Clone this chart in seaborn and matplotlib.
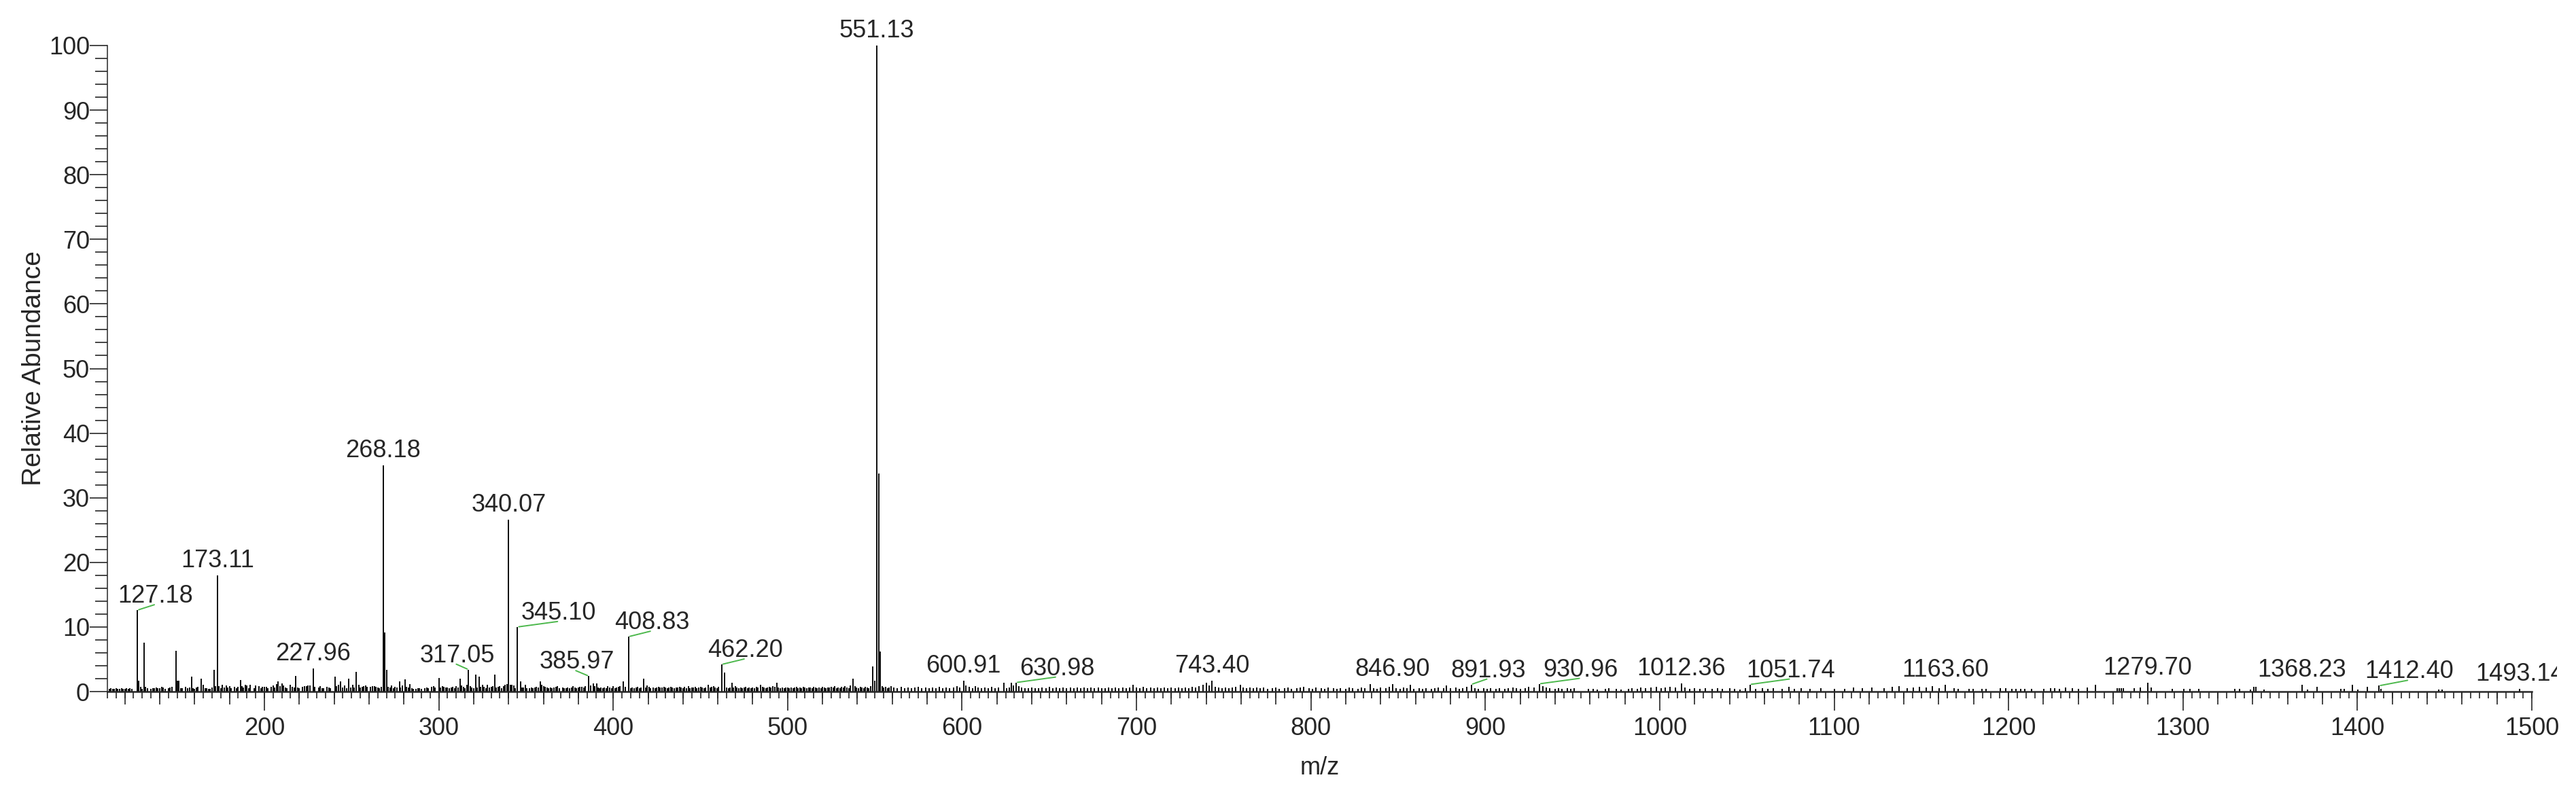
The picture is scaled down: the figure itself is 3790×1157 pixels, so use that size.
import matplotlib
matplotlib.use("Agg")
import numpy as np
import pandas as pd
import matplotlib.pyplot as plt
import seaborn as sns
from matplotlib.ticker import MultipleLocator
from matplotlib.transforms import Bbox, TransformedBbox

# =================== Labelled peaks ===================
label_mz = [127.18, 173.11, 227.96, 268.18, 317.05, 340.07, 345.10, 385.97,
            408.83, 462.20, 551.13, 600.91, 630.98, 743.40, 846.90, 891.93,
            930.96, 1012.36, 1051.74, 1163.60, 1279.70, 1368.23, 1412.40, 1493.14]
label_ab = [12.6, 18.0, 3.6, 35.0, 3.4, 26.6, 10.0, 2.4,
            8.5, 4.2, 100.0, 1.7, 1.4, 1.7, 1.2, 1.1,
            1.2, 1.3, 1.1, 1.05, 1.4, 1.05, 0.9, 0.4]
# horizontal shift of the label (pixels); non-zero ones get a green leader line
label_dx = [27, 0, 0, 0, -16, 0, 61, -17,
            34, 35, 0, 0, 60, 0, 0, 25,
            61, 0, 60, 0, 0, 0, 44, 0]

# =================== Other peaks (m/z, relative abundance) ===================
peaks_110_300 = [
    (111, .45), (112, .5), (113, .45), (114, .45), (115, .5), (116, .45), (117, .45), (118, .5),
    (119, .45), (120, .45), (121, .5), (122, .45), (123, .5), (124, .45),
    (128, 1.7), (129, .7), (130, .4), (131.2, 7.6), (132, .7), (133, .5), (135, .45), (136, .5),
    (137, .55), (138, .6), (139, .5), (140, .5), (141, .7), (142, .6), (143, .45), (145, .5),
    (146, .6), (147, .7), (149.2, 6.3), (150, 1.7), (151, 1.7), (152, .5), (153, .55), (155, .7),
    (156, .5), (157, .6), (158.3, 2.3), (159, .5), (160, .45), (161, .6), (162, .7), (163.7, 2.0),
    (165, 1.0), (166, .5), (167, .5), (168, .4), (169, .45), (170, .6), (171.1, 3.4), (172, .8),
    (174, .8), (175, .5), (176, 1.0), (177, .6), (178, .9), (179, .6), (180, .8), (181, .5),
    (183, .7), (184, .5), (185, .7), (186.2, 1.8), (187, .8), (188, .6), (189, 1.0), (190, .9),
    (191, .5), (192, 1.0), (194, .5), (195, .9), (197, .8), (198, .5), (199, .7), (200, .7),
    (201, .7), (202, .5), (204, .7), (205, .9), (206, .6), (207, 1.2), (208, 1.6), (209, .8),
    (210, 1.3), (211, .9), (212, .6), (213, .5), (215, 1.0), (216, .7), (217, .6), (218, 2.4),
    (219, .6), (220, .5), (222, .7), (223, .8), (224, .8), (225, .9), (226, .9), (229, .7),
    (231, .6), (232, .8), (233, .5), (234, .5), (236, .7), (237, .6), (238, .5), (240.5, 2.3),
    (241.5, .8), (242.5, 1.0), (243.7, 1.6), (245, .6), (246, .9), (247, .5), (248.4, 2.0), (249.5, .6),
    (250.5, 1.0), (251.5, .6), (252.7, 3.0), (254, 1.0), (255, .6), (256, .7), (257, .8), (258, .9),
    (259, .7), (261, .7), (262, .8), (263, .8), (264, .7), (265, .6), (266, .5), (267, .7),
    (269.18, 9.2), (270.2, 3.4), (271, .7), (272, .6), (273, .9), (274, .5), (275, .7), (276, .6),
    (277.4, 1.6), (278, .6), (279, .9), (280.6, 1.9), (281.5, .7), (282.5, .6), (283.6, 1.2), (284.5, .5),
    (285.5, .4), (287, .4), (288, .5), (289, .5), (290, .45), (292, .5), (293, .6), (294, .5),
    (296, .7), (297, .8), (298, .6),
]

peaks_300_560 = [
    (300.1, 2.1), (301, .6), (302, .8), (303, .7), (304, .6), (305, .6), (306, .5), (307, .6),
    (308, .7), (309, .5), (310, .8), (311, .6), (312.2, 2.0), (313, .9), (314, .7), (315, .5),
    (316, 1.0), (318, .8), (319, .6), (320, .5), (321.1, 2.6), (322, .6), (323.3, 2.3), (324, .7),
    (325, 1.1), (326, .7), (327, .5), (328, 1.0), (329, .6), (330, .7), (331, .8), (332.3, 2.6),
    (333, .6), (334, .7), (335, .8), (336, .5), (337, .8), (338, 1.0), (339, 1.2), (341, 1.1),
    (342, 1.0), (343, .9), (344, .5), (346.8, 1.6), (347.8, .6), (348.6, .6), (349.5, 1.0), (350.5, .5),
    (352, .5), (353, .6), (354, .5), (355, .6), (356, .7), (357, .6), (358.2, 1.6), (359, 1.0),
    (360, .8), (361, .7), (362, .6), (363, .5), (364, .6), (365, .5), (366, .6), (367, .7),
    (368, .8), (369, .5), (371, .6), (372, .5), (373, .5), (374, .6), (375, .5), (376, .6),
    (377, .8), (378, .6), (379, .5), (380, .6), (381, .7), (382, .7), (383, .6), (384, .8),
    (387, .9), (388.6, 1.3), (389.5, .8), (390.4, 1.3), (391.5, .6), (392, .5), (393, .6), (394, .5),
    (395, .6), (396, .5), (397, .8), (398, .6), (399, .5), (400, .8), (401, .5), (402, .6),
    (403, .7), (404, .8), (405.8, 1.6), (407, .7), (410, .5), (411, .6), (412, .5), (413, .6),
    (414, .7), (415, .5), (416, .6), (417.4, 2.0), (418.5, .6), (419.5, .9), (420.5, .7), (421.5, .5),
    (423, .6), (424, .5), (425, .6), (426, .7), (427, .6), (428, .6), (429, .7), (430, .6),
    (431, .5), (432, .6), (433, .7), (434, .6), (435, .5), (436, .6), (437, .6), (438, .7),
    (439, .6), (440, .5), (441, .7), (442, .5), (443, .8), (444, .5), (445, .6), (446, .6),
    (447, .7), (448, .5), (449, .6), (450, .7), (451, .6), (452, .5), (453, .6), (454.6, 1.0),
    (455.5, .6), (456.5, .7), (457.5, .8), (458.5, .6), (459.5, .5), (460.5, .7), (463.7, 2.9), (465, .6),
    (466, .5), (467, .6), (468.2, 1.4), (469, .6), (470, .8), (471, .6), (472, .5), (473, .6),
    (474, .5), (475, .6), (476, .7), (477, .5), (478, .6), (479, .5), (480, .6), (481, .5),
    (482, .7), (483, .6), (484.4, 1.05), (485.5, .7), (486.5, .6), (487.5, .5), (488.5, .6), (489.5, .7),
    (490.5, .6), (491.5, .8), (492.5, .7), (493.7, 1.4), (494.7, .6), (495.7, .5), (497, .6), (498, .5),
    (499, .6), (500, .6), (501, .5), (502, .6), (503, .5), (504, .6), (505, .7), (506, .5),
    (507, .6), (508, .5), (509, .7), (510, .6), (511, .5), (512, .6), (513, .6), (514, .5),
    (515, .7), (516, .6), (517, .5), (518, .6), (519, .5), (520, .7), (521, .6), (522, .5),
    (523, .6), (524, .6), (525, .7), (526, .6), (527, .8), (528, .5), (529, .6), (530, .5),
    (531, .7), (532, .6), (533, .8), (534, .6), (535, .5), (536, .9), (537.6, 2.0), (538.6, .8),
    (539.6, .6), (540.6, .5), (541.6, .7), (542.6, .6), (543.6, .5), (544.6, .7), (545.6, .6), (546.6, .5),
    (547.6, .8), (548.8, 3.9), (549.9, 1.7), (552.13, 33.8), (553.13, 6.2), (554.2, .8), (555.2, .6),
    (556.2, .7), (557.2, .5), (558.2, .6), (559.2, .8),
]

peaks_560_770 = [
    (561, .6), (563, .5), (565, .7), (567, .5), (569, .6), (571, .5), (573, .6), (575, .7),
    (577, .5), (579, .6), (581, .5), (583, .6), (585, .5), (587, .7), (589, .5), (591, .6),
    (593, .5), (595, .6), (597, .8), (598.5, .6), (602, .9), (604, .7), (606, .5), (607.5, .8),
    (609, .6), (611, .5), (613, .6), (615, .5), (617, .7), (619, .5), (621, .6), (623.9, 1.4),
    (625.5, .5), (627, .6), (628.2, 1.4), (629.5, .9), (632.5, .8), (634, .6), (636, .5), (638, .5),
    (640, .6), (642, .5), (644, .5), (646, .6), (648, .5), (650, .7), (652, .5), (654, .6),
    (656, .5), (658, .6), (660, .5), (662, .6), (664, .5), (666, .6), (668, .5), (670, .6),
    (672, .5), (674, .6), (676, .5), (678, .6), (680, .5), (682, .5), (684, .6), (686, .5),
    (688, .6), (690, .5), (692, .6), (694, .5), (696, .6), (698, 1.05), (700, .6), (702, .5),
    (704, .7), (706, .5), (708, .6), (710, .5), (712, .6), (714, .5), (716, .6), (718, .5),
    (720, .6), (722, .5), (724, .6), (726, .5), (728, .6), (730, .5), (732, .7), (734, .6),
    (736, .8), (738, 1.0), (740, 1.4), (741.8, .9), (745, .7), (747, .6), (749, .5), (751, .6),
    (753, .5), (755, .6), (757, .7), (759.6, 1.05), (761, .6), (763, .5), (765, .6), (767, .5),
    (769, .6),
]

peaks_770_1140 = [
    (771, .5), (773, .6), (775, .4), (778, .5), (780, .6), (782, .4), (785, .5), (787, .6),
    (789, .4), (792, .5), (794, .6), (796, .7), (799, .5), (801, .4), (803, .6), (806, .5),
    (808, .4), (810, .6), (813, .5), (815, .4), (817, .5), (820, .4), (822, .6), (824, .5),
    (827, .4), (829, .6), (831, .5), (834.1, 1.2), (836, .5), (838, .4), (840, .6), (843, .5),
    (845, .7), (849, .5), (851, .4), (853, .6), (855, .5), (857, 1.0), (859, .4), (862, .5),
    (864, .4), (866, .5), (869, .4), (871, .5), (873, .6), (876, .5), (877.6, .95), (880, .5),
    (883, .6), (885, .4), (887, .5), (889.5, .7), (894, .5), (896, .4), (899, .5), (901, .4),
    (903, .5), (906, .4), (908, .5), (911, .4), (913, .5), (916, .6), (918, .5), (920, .4),
    (923, .5), (925, .7), (928, .6), (933, .8), (935, .6), (937, .5), (940, .4), (942, .5),
    (944, .4), (947, .5), (949, .4), (951, .5), (959, .4), (962, .4), (964, .3), (969, .4),
    (971, .5), (975, .4), (978, .3), (982, .4), (984, .5), (987, .4), (989, .6), (992, .5),
    (995, .6), (998, .7), (1001, .5), (1003, .6), (1006, .7), (1009, .6), (1014.5, .6), (1017, .4),
    (1020, .5), (1023, .4), (1026, .5), (1030, .4), (1033, .5), (1036, .4), (1040, .5), (1043, .4),
    (1046, .3), (1049, .5), (1055, .4), (1059, .5), (1062, .4), (1065.2, .5), (1070, .4), (1073.9, .7),
    (1077, .4), (1081, .5), (1086.3, .4), (1092.5, .5), (1100, .4), (1106.2, .4), (1111.1, .6), (1116, .5),
    (1121.6, .6), (1128.5, .5), (1133.5, .7), (1137.2, .8),
]

peaks_1140_1500 = [
    (1141.7, .5), (1145.4, .6), (1149.0, .7), (1152.7, .6), (1156.4, .8), (1160.1, .5), (1168.7, .5),
    (1171.2, .4), (1177.3, .4), (1179.8, .4), (1184.7, .4), (1187.2, .4), (1195.3, .5), (1198.2, .5),
    (1201.9, .4), (1204.4, .4), (1206.8, .4), (1209.3, .4), (1213.0, .4), (1220.4, .4), (1224.1, .5),
    (1226.5, .5), (1229.0, .4), (1232.7, .6), (1236.4, .5), (1240.1, .4), (1245.0, .6), (1249.9, 1.05),
    (1262.2, .5), (1263.4, .5), (1264.7, .5), (1265.9, .5), (1272.0, .5), (1275.7, .6), (1281.9, .6),
    (1293.7, .4), (1300.3, .4), (1304.0, .4), (1308.9, .4), (1329.8, .4), (1332.3, .4), (1338.5, .35),
    (1340.5, .7), (1341.8, .7), (1346.3, .35), (1371.3, .35), (1376.9, .75), (1390.5, .4), (1392.5, .4),
    (1397.0, 1.0), (1400.2, .35), (1405.8, .75), (1413.6, .4), (1446.7, .35), (1448.6, .35),
]

# =================== Style ===================
sns.set_style("ticks")
plt.rcParams["font.family"] = ["Liberation Sans", "DejaVu Sans"]
GREEN = "#4cb84c"
W, H = 3790, 1157

other = peaks_110_300 + peaks_300_560 + peaks_560_770 + peaks_770_1140 + peaks_1140_1500
df = pd.concat([
    pd.DataFrame({"mz": label_mz, "ab": label_ab}),
    pd.DataFrame(other, columns=["mz", "ab"]),
], ignore_index=True)

fig = plt.figure(figsize=(W / 100, H / 100), dpi=100)
ax = fig.add_axes([158 / W, 1 - 1018 / H, (3725 - 158) / W, (1018 - 67) / H])

ax.vlines(df["mz"], 0, df["ab"], color="black", lw=1.35)
ax.set_xlim(110, 1500)
ax.set_ylim(0, 100)
sns.despine(ax=ax)
ax.spines["left"].set_linewidth(1.1)
ax.spines["bottom"].set_linewidth(1.8)

# y axis
ax.yaxis.set_major_locator(MultipleLocator(10))
ax.yaxis.set_minor_locator(MultipleLocator(2))
ax.tick_params(axis="y", which="major", length=18.7, width=1.2, pad=0, labelsize=26)
ax.tick_params(axis="y", which="minor", length=13, width=1.2)

# x axis: labelled every 100, medium ticks every 20, short ticks every 5
ax.xaxis.set_major_locator(MultipleLocator(100))
ax.xaxis.set_minor_locator(MultipleLocator(20))
ax.tick_params(axis="x", which="major", length=20, width=1.2, pad=7, labelsize=26)
ax.tick_params(axis="x", which="minor", length=13.7, width=1.2)
sec = ax.secondary_xaxis("bottom")
sec.xaxis.set_major_locator(MultipleLocator(5))
sec.tick_params(axis="x", which="major", length=7.2, width=1.2, labelbottom=False)
sec.spines["bottom"].set_visible(False)

ax.set_xlabel("m/z", fontsize=26)
ax.xaxis.label.set_va("center")
ax.xaxis.set_label_coords(0.5, (1018 - 1130) / (1018 - 67))
ax.set_ylabel("Relative Abundance", fontsize=28)
ax.yaxis.label.set_va("center")
ax.yaxis.set_label_coords((50 - 158) / (3725 - 158), 0.5)

# peak labels
clip = TransformedBbox(Bbox([[0, 0], [3762 / W, 1]]), fig.transFigure)
for mz, ab, dx in zip(label_mz, label_ab, label_dx):
    dy = 12 if dx == 0 else 11
    t = ax.annotate(f"{mz:.2f}", xy=(mz, ab), xytext=(dx, dy), textcoords="offset pixels",
                    ha="center", va="baseline", fontsize=26, annotation_clip=False)
    t.set_clip_box(clip)
    if dx:
        ax.annotate("", xy=(mz, ab), xytext=(dx - 2, dy - 3), textcoords="offset pixels",
                    annotation_clip=False,
                    arrowprops=dict(arrowstyle="-", color=GREEN, lw=1.4, shrinkA=0, shrinkB=1.5))

fig.savefig("out.png", dpi=100, facecolor="white")
